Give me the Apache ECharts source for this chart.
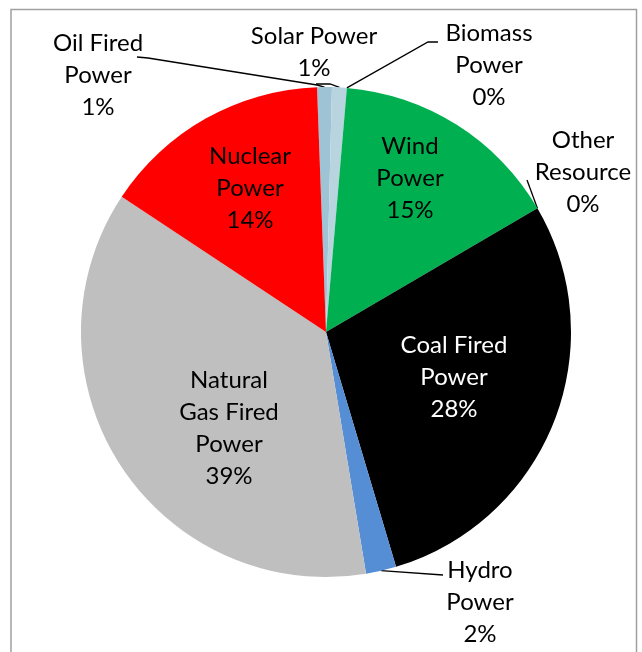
<!DOCTYPE html>
<html><head><meta charset="utf-8">
<script src="https://cdn.jsdelivr.net/npm/echarts@6/dist/echarts.min.js"></script>
<style>html,body{margin:0;padding:0;background:#fff}#c{width:642px;height:652px}</style>
</head><body><div id="c"></div>
<script>
// Data (clockwise from top)
const categories = ["Oil Fired\nPower", "Solar Power", "Biomass\nPower", "Wind\nPower", "Other\nResource", "Coal Fired\nPower", "Hydro\nPower", "Natural\nGas Fired\nPower", "Nuclear\nPower"];
const shares = [0.97, 0.97, 0, 15.2, 0, 28.8, 2.0, 36.9, 15.1];
const shownPercent = [1, 1, 0, 15, 0, 28, 2, 39, 14];

// Styling / layout
const colors = ['#9DC3D5', '#B7D4DF', '#F79646', '#00B050', '#7F7F7F', '#000000', '#558ED5', '#BFBFBF', '#FF0000'];
const textColors = ['#000', '#000', '#000', '#000', '#000', '#fff', '#000', '#000', '#000'];
const labelPos = [[98, 75], [314, 52], [489, 65], [410, 178], [583, 172], [454, 377], [480, 602], [229, 428], [250, 188]];
const leader = [
  [[317, 85], [148, 58], [137, 57]],
  [[330, 84], [316, 84]],
  [[428, 42], [438, 42]],
  null,
  [[527, 180]],
  null,
  [[443, 575]],
  null,
  null
];

const chart = echarts.init(document.getElementById('c'), null, { renderer: 'canvas' });
chart.setOption({
  animation: false,
  backgroundColor: '#fff',
  graphic: [{
    type: 'rect', shape: { x: 11, y: 9.5, width: 625.5, height: 700 },
    style: { fill: 'none', stroke: '#A0A0A0', lineWidth: 1.5 }, silent: true
  }],
  series: [{
    type: 'pie',
    center: [326, 332],
    radius: 245,
    startAngle: 92.1,
    clockwise: true,
    avoidLabelOverlap: false,
    minShowLabelAngle: 0,
    stillShowZeroSum: true,
    data: categories.map((n, i) => ({
      name: n,
      value: shares[i],
      itemStyle: { color: colors[i] },
      label: { color: textColors[i] },
      labelLine: { show: !!leader[i] }
    })),
    label: {
      show: true,
      position: 'outside',
      fontFamily: 'Lato',
      fontSize: 24,
      lineHeight: 32,
      align: 'center',
      formatter: p => categories[p.dataIndex] + '\n' + shownPercent[p.dataIndex] + '%'
    },
    labelLine: { show: true, lineStyle: { color: '#000', width: 1.3 }, smooth: false },
    labelLayout: function (p) {
      const i = p.dataIndex;
      const out = { x: labelPos[i][0], y: labelPos[i][1], align: 'center', verticalAlign: 'middle' };
      if (leader[i] && p.labelLinePoints) {
        out.labelLinePoints = [p.labelLinePoints[0]].concat(leader[i]);
      }
      return out;
    },
    emphasis: { disabled: true }
  }]
});
</script></body></html>
